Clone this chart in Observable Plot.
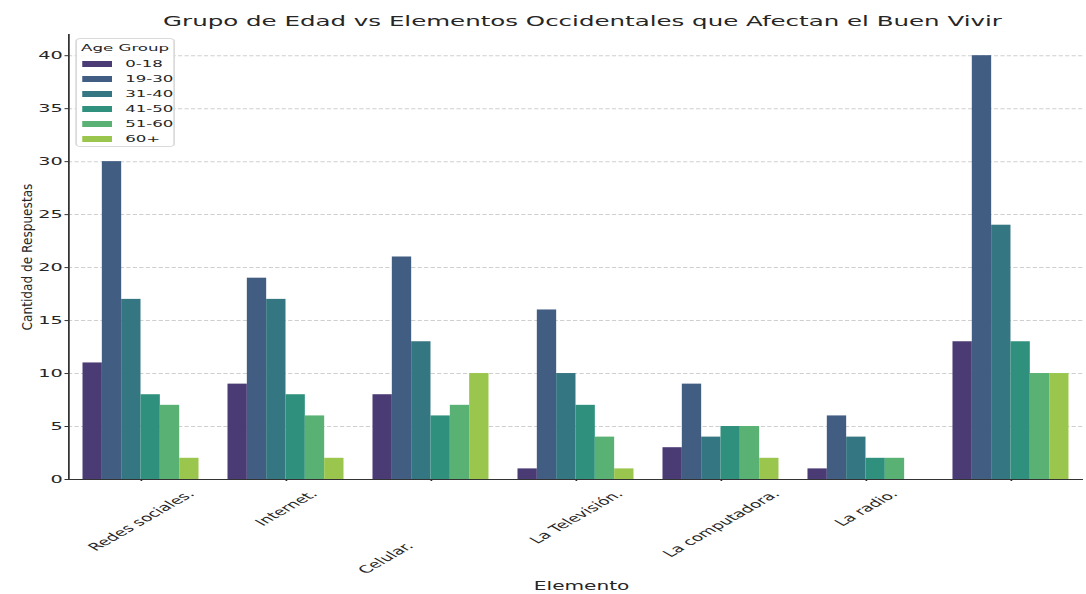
<!DOCTYPE html>
<html>
<head>
<meta charset="utf-8">
<script src="https://cdn.jsdelivr.net/npm/d3@7"></script>
<script src="https://cdn.jsdelivr.net/npm/@observablehq/plot@0.6"></script>
<style>
  body { margin: 0; background: #fff; font-family: "DejaVu Sans", sans-serif; color: #262626; }
  #wrap { position: relative; width: 1086px; height: 594px; overflow: hidden; background: #fff; }
  #stretch { position: absolute; left: 0; top: 0; height: 594px; transform-origin: 0 0; }
  #title { position: absolute; top: 13px; font-size: 14px; line-height: 16px; white-space: nowrap; transform: translateX(-50%); }
  #chart { position: absolute; left: 0; top: 30px; }
  #legend { position: absolute; left: 43px; top: 38px; width: 57px; height: 109px; box-sizing: border-box;
            border: 1px solid #dadada; border-radius: 3px; background: rgba(255,255,255,0.85); font-size: 9.5px; }
  #legend .lt { position: absolute; left: 0; width: 100%; text-align: center; top: 3px; line-height: 11px; white-space: nowrap; }
  #legend .sw { position: absolute; left: 3px; width: 16.6px; height: 6px; }
  #legend .lb { position: absolute; left: 27.5px; line-height: 11px; white-space: nowrap; }
  #ylabel { position: absolute; left: 26.5px; top: 256.5px; font-family: "DejaVu Sans Condensed", "DejaVu Sans", sans-serif;
            font-stretch: condensed; font-size: 13.5px; line-height: 14px; white-space: nowrap;
            transform: translate(-50%, -50%) rotate(-90deg); }
</style>
</head>
<body>
<div id="wrap">
  <div id="stretch">
    <div id="title"></div>
    <div id="chart"></div>
    <div id="legend"></div>
  </div>
  <div id="ylabel"></div>
</div>
<script>
// ---- data ----
const titulo = "Grupo de Edad vs Elementos Occidentales que Afectan el Buen Vivir";
const ejeX = "Elemento";
const ejeY = "Cantidad de Respuestas";
const tituloLeyenda = "Age Group";
const elementos = ["Redes sociales.", "Internet.", "Celular.", "La Televisión.", "La computadora.", "La radio.", ""];
const etiquetas = ["Redes sociales.", "Internet.", "Celular." + "\u00a0".repeat(22), "La Televisión.", "La computadora.", "La radio.", ""];
const grupos = ["0-18", "19-30", "31-40", "41-50", "51-60", "60+"];
const v0_18  = [11,  9,  8,  1, 3, 1, 13];
const v19_30 = [30, 19, 21, 16, 9, 6, 40];
const v31_40 = [17, 17, 13, 10, 4, 4, 24];
const v41_50 = [ 8,  8,  6,  7, 5, 2, 13];
const v51_60 = [ 7,  6,  7,  4, 5, 2, 10];
const v60    = [ 2,  2, 10,  1, 2, 0, 10];
const yTicks = [0, 5, 10, 15, 20, 25, 30, 35, 40];

// ---- layout ----
const K = 1.75;            // horizontal stretch of the reference picture
const W0 = 1086 / K;
document.getElementById("stretch").style.width = W0 + "px";
document.getElementById("stretch").style.transform = `scaleX(${K})`;

const series = [v0_18, v19_30, v31_40, v41_50, v51_60, v60];
const colores = grupos.map((g, j) => {
  const c = d3.hsl(d3.interpolateViridis((j + 1) / (grupos.length + 1)));
  c.s *= 0.75;
  return c.formatHex();
});

const filas = [];
elementos.forEach((e, i) => series.forEach((vals, j) => filas.push({i, j, elemento: e, grupo: grupos[j], valor: vals[i]})));
const grupoAncho = 0.8, barra = grupoAncho / grupos.length;

const ctx = document.createElement("canvas").getContext("2d");
const fsX = 10.5;
ctx.font = `${fsX}px "DejaVu Sans"`;
const labelMarks = etiquetas.map((t, i) => {
  if (!t) return null;
  const L = ctx.measureText(t).width;
  const h = 1.16 * fsX;
  return Plot.text([i], {
    x: d => d, text: () => t, frameAnchor: "bottom", rotate: -45,
    textAnchor: "middle", lineAnchor: "middle", fontSize: fsX,
    dy: 8.5 + Math.SQRT1_2 * (L + h) / 2
  });
});

const chart = Plot.plot({
  width: W0,
  height: 564,
  marginTop: 4,
  marginBottom: 115,
  marginLeft: 68 / K,
  marginRight: (1086 - 1083) / K,
  style: {fontFamily: "DejaVu Sans", fontSize: "11px", color: "#262626", background: "transparent", overflow: "visible"},
  x: {domain: [-0.5, elementos.length - 0.5], axis: null},
  y: {domain: [0, 42], axis: null},
  color: {domain: grupos, range: colores},
  marks: [
    Plot.gridY(yTicks.filter(t => t > 0), {stroke: "#cfcfcf", strokeOpacity: 1, strokeDasharray: "2.4,1.3"}),
    Plot.rect(filas, {
      x1: d => d.i - grupoAncho / 2 + d.j * barra,
      x2: d => d.i - grupoAncho / 2 + (d.j + 1) * barra,
      y1: d => 0, y2: "valor", fill: "grupo"
    }),
    Plot.ruleX([-0.5], {stroke: "#333"}),
    Plot.ruleY([0], {stroke: "#333"}),
    Plot.axisY({ticks: yTicks, tickSize: 2, tickPadding: 1.5, fontSize: 11, stroke: "#333", label: null}),
    Plot.axisX({ticks: d3.range(elementos.length), tickSize: 2, fill: "none", stroke: "#333", label: null}),
    ...labelMarks.filter(Boolean),
    Plot.text([ejeX], {frameAnchor: "bottom", text: d => d, dy: 107, dx: 3, lineAnchor: "middle", fontSize: 11.5})
  ]
});
document.getElementById("chart").appendChild(chart);

// title
const tEl = document.getElementById("title");
tEl.textContent = titulo;
tEl.style.left = (582.5 / K) + "px";

// y label
document.getElementById("ylabel").textContent = ejeY;

// legend
const leg = document.getElementById("legend");
const lt = document.createElement("div");
lt.className = "lt"; lt.textContent = tituloLeyenda; leg.appendChild(lt);
grupos.forEach((g, j) => {
  const cy = 24.5 + 15 * j;
  const sw = document.createElement("div");
  sw.className = "sw"; sw.style.background = colores[j]; sw.style.top = (cy - 3) + "px";
  leg.appendChild(sw);
  const lb = document.createElement("div");
  lb.className = "lb"; lb.textContent = g; lb.style.top = (cy - 5.5) + "px";
  leg.appendChild(lb);
});
</script>
</body>
</html>
